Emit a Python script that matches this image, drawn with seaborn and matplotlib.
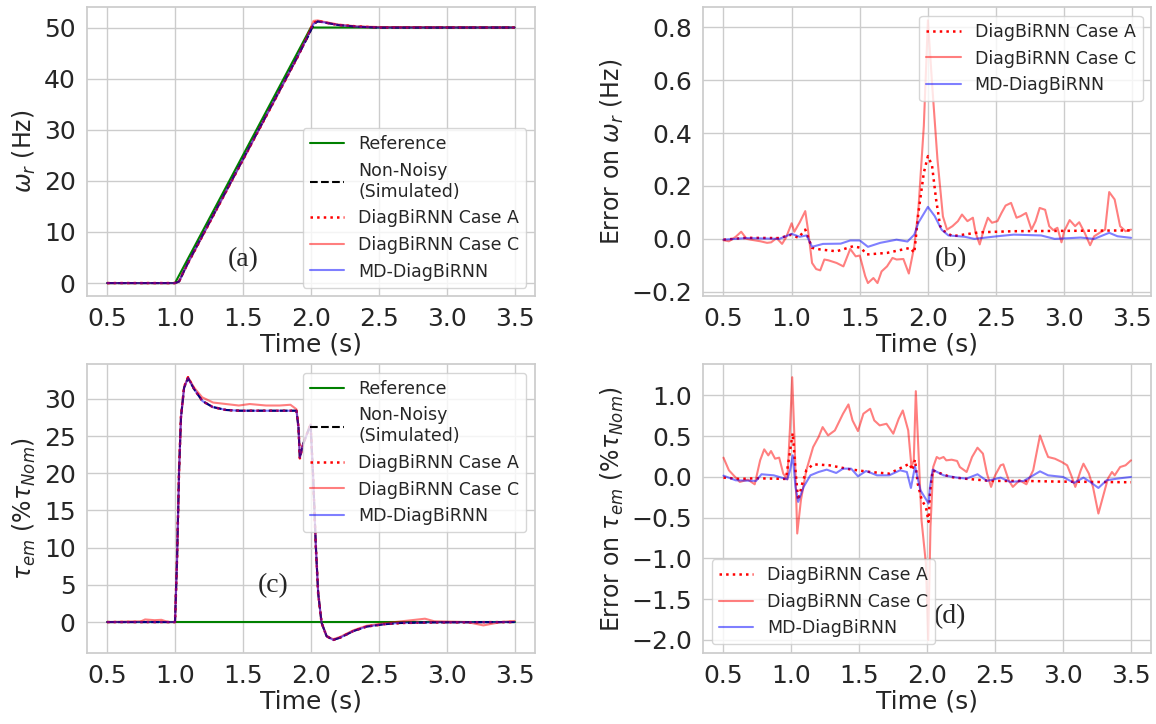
import matplotlib
matplotlib.use("Agg")
import matplotlib.pyplot as plt
import seaborn as sns

# ── Data ──────────────────────────────────────────────────────────────────────
# (a) rotor speed
ref_w_t = [0.5, 1.0, 2.0, 3.5]
ref_w = [0, 0, 50, 50]
sim_w_t = [0.5, 1.0, 1.03, 1.06, 1.10, 1.5, 1.9, 1.98, 2.02, 2.05, 2.1, 2.2, 2.35, 2.5, 3.5]
sim_w = [0, 0, 0.3, 2.0, 4.2, 24.2, 44.2, 48.3, 50.6, 51.2, 51.0, 50.5, 50.15, 50.0, 50.0]
caseA_w = [0, 0, 0.3, 2.0, 4.1, 24.1, 44.1, 48.5, 50.9, 51.3, 51.0, 50.5, 50.2, 50.0, 50.0]
caseC_w = [0, 0, 0.3, 2.1, 4.1, 24.1, 44.1, 48.7, 51.3, 51.4, 51.1, 50.6, 50.2, 50.1, 50.0]
md_w = [0, 0, 0.3, 2.0, 4.2, 24.2, 44.2, 48.4, 50.7, 51.2, 51.0, 50.5, 50.15, 50.0, 50.0]

# (b) error on rotor speed
errA_w_t = [0.50, 0.67, 0.91, 1.00, 1.05, 1.10, 1.15, 1.21, 1.33, 1.45, 1.51, 1.55, 1.70, 1.87,
            1.90, 1.93, 1.97, 2.00, 2.03, 2.06, 2.09, 2.12, 2.18, 2.38, 2.63, 3.49]
errA_w = [-0.003, 0.004, 0.003, 0.016, 0.004, 0.035, -0.034, -0.040, -0.047, -0.028, -0.034, -0.059,
          -0.053, -0.034, -0.053, 0.098, 0.250, 0.313, 0.278, 0.149, 0.048, 0.029, 0.010, 0.025,
          0.029, 0.032]
errC_w_t = [0.50, 0.54, 0.59, 0.63, 0.67, 0.70, 0.77, 0.82, 0.85, 0.89, 0.93, 0.96, 1.00, 1.02,
            1.06, 1.10, 1.12, 1.15, 1.18, 1.21, 1.24, 1.27, 1.33, 1.38, 1.43, 1.47, 1.50, 1.54,
            1.56, 1.60, 1.63, 1.66, 1.70, 1.74, 1.77, 1.82, 1.86, 1.90, 1.93, 1.97, 2.00, 2.03,
            2.07, 2.11, 2.14, 2.18, 2.22, 2.25, 2.29, 2.33, 2.35, 2.38, 2.41, 2.44, 2.47, 2.51,
            2.54, 2.57, 2.61, 2.65, 2.68, 2.72, 2.76, 2.79, 2.82, 2.86, 2.89, 2.92, 2.95, 2.98,
            3.00, 3.04, 3.08, 3.11, 3.15, 3.19, 3.22, 3.26, 3.30, 3.33, 3.37, 3.41, 3.45, 3.49]
errC_w = [-0.005, -0.009, 0.008, 0.027, 0.000, -0.003, -0.009, -0.015, -0.013, 0.003, -0.019,
          0.006, 0.059, 0.027, 0.063, 0.105, 0.035, -0.091, -0.114, -0.119, -0.078, -0.081,
          -0.091, -0.104, -0.038, -0.066, -0.063, -0.141, -0.167, -0.148, -0.167, -0.123,
          -0.104, -0.072, -0.078, -0.076, -0.131, -0.028, 0.111, 0.427, 0.826, 0.591, 0.301,
          0.085, 0.035, 0.048, 0.067, 0.092, 0.067, 0.080, 0.023, -0.021, 0.035, 0.080, 0.061,
          0.067, 0.098, 0.126, 0.136, 0.080, 0.086, 0.098, 0.035, 0.067, 0.117, 0.110, 0.048,
          0.033, 0.042, -0.013, 0.029, 0.071, 0.048, 0.063, 0.023, -0.024, 0.010, 0.023, 0.035,
          0.177, 0.149, 0.048, 0.029, 0.035]
errMD_w_t = [0.50, 0.67, 0.91, 1.00, 1.06, 1.11, 1.15, 1.23, 1.36, 1.43, 1.50, 1.56, 1.65, 1.77,
             1.85, 1.90, 1.93, 2.00, 2.05, 2.10, 2.15, 2.27, 2.34, 2.51, 2.63, 2.83, 2.93, 3.12,
             3.22, 3.33, 3.39, 3.49]
errMD_w = [-0.003, 0.003, 0.000, 0.019, 0.008, 0.013, -0.030, -0.019, -0.018, -0.006, -0.006,
           -0.030, -0.015, -0.003, -0.010, 0.016, 0.061, 0.121, 0.086, 0.035, 0.013, 0.008, 0.000,
           0.010, 0.016, 0.013, 0.000, 0.005, 0.000, 0.023, 0.010, 0.004]

# (c) electromagnetic torque
ref_tau_t = [0.5, 3.5]
ref_tau = [0, 0]
sim_tau_t = [0.5, 1.0, 1.015, 1.03, 1.044, 1.067, 1.096, 1.141, 1.202, 1.277, 1.375, 1.474,
             1.894, 1.909, 1.919, 1.943, 1.998, 2.017, 2.037, 2.054, 2.079, 2.116, 2.165, 2.215,
             2.314, 2.412, 2.536, 2.659, 2.906, 3.499]
sim_tau = [0, 0, 8.4, 20.4, 27.5, 31.5, 32.8, 31.3, 29.7, 28.9, 28.5, 28.4, 28.4, 26.2, 22.1,
           23.9, 26.6, 19.5, 10.1, 3.9, -0.1, -1.9, -2.4, -2.1, -1.2, -0.6, -0.3, -0.13, -0.04, 0]
caseA_tau = [0, 0, 8.4, 20.5, 27.6, 31.6, 32.9, 31.3, 29.7, 28.9, 28.5, 28.4, 28.4, 26.2, 22.0,
             23.9, 26.6, 19.4, 10.0, 3.8, -0.1, -1.9, -2.4, -2.1, -1.2, -0.6, -0.3, -0.13, -0.05, 0]
md_tau = [0, 0, 8.3, 20.3, 27.5, 31.5, 32.8, 31.3, 29.7, 28.9, 28.5, 28.4, 28.4, 26.1, 22.1,
          23.9, 26.5, 19.5, 10.1, 3.9, -0.1, -1.9, -2.4, -2.1, -1.2, -0.6, -0.3, -0.1, -0.04, 0]
caseC_tau_t = [0.5, 0.75, 0.78, 0.85, 0.9, 0.95, 1.0, 1.015, 1.03, 1.044, 1.067, 1.096, 1.141,
               1.20, 1.28, 1.375, 1.47, 1.55, 1.67, 1.77, 1.85, 1.894, 1.909, 1.919, 1.943,
               1.998, 2.017, 2.037, 2.054, 2.079, 2.116, 2.165, 2.215, 2.314, 2.41, 2.57, 2.84,
               2.91, 3.15, 3.27, 3.40, 3.5]
caseC_tau = [0, 0.1, 0.35, 0.25, 0.3, 0.0, 0, 8.4, 20.4, 27.5, 31.6, 32.9, 31.5, 30.2, 29.5, 29.3,
             29.1, 29.3, 29.1, 29.1, 29.2, 28.6, 26.2, 22.1, 23.9, 26.6, 19.5, 10.1, 3.9, -0.1,
             -1.9, -2.3, -2.0, -1.1, -0.5, -0.1, 0.45, 0.1, 0.0, -0.45, 0.0, 0.15]

# (d) error on torque
errA_tau_t = [0.50, 0.62, 0.74, 0.96, 0.98, 1.01, 1.03, 1.05, 1.08, 1.11, 1.16, 1.28, 1.43, 1.58,
              1.72, 1.77, 1.82, 1.87, 1.89, 1.91, 1.93, 1.96, 1.99, 2.01, 2.02, 2.04, 2.07, 2.17,
              2.27, 2.47, 2.72, 2.97, 3.50]
errA_tau = [-0.008, -0.024, -0.016, -0.024, 0.204, 0.539, 0.082, -0.286, -0.082, 0.082, 0.155,
            0.143, 0.094, 0.061, 0.041, 0.082, 0.122, 0.163, 0.082, 0.212, -0.082, -0.286,
            -0.367, -0.551, -0.204, 0.082, 0.061, 0.000, -0.020, -0.049, -0.049, -0.057, -0.065]
errC_tau_t = [0.50, 0.54, 0.62, 0.68, 0.73, 0.77, 0.80, 0.83, 0.85, 0.88, 0.91, 0.94, 0.97, 0.99,
              1.006, 1.024, 1.043, 1.07, 1.11, 1.16, 1.20, 1.23, 1.27, 1.32, 1.38, 1.42, 1.45,
              1.49, 1.53, 1.58, 1.61, 1.65, 1.70, 1.75, 1.79, 1.82, 1.86, 1.884, 1.901, 1.916,
              1.933, 1.958, 1.990, 2.007, 2.024, 2.044, 2.07, 2.09, 2.12, 2.14, 2.18, 2.22, 2.24,
              2.29, 2.33, 2.37, 2.41, 2.44, 2.47, 2.50, 2.54, 2.56, 2.60, 2.63, 2.68, 2.73, 2.78,
              2.83, 2.87, 2.89, 2.94, 2.99, 3.03, 3.06, 3.09, 3.13, 3.15, 3.19, 3.22, 3.26, 3.30,
              3.33, 3.36, 3.38, 3.42, 3.46, 3.50]
errC_tau = [0.237, 0.082, -0.061, -0.033, -0.090, 0.204, 0.339, 0.265, 0.318, 0.224, 0.237,
            0.041, -0.029, 0.612, 1.224, 0.408, -0.694, -0.286, 0.082, 0.367, 0.490, 0.612,
            0.510, 0.571, 0.776, 0.890, 0.694, 0.563, 0.776, 0.837, 0.694, 0.633, 0.653, 0.531,
            0.714, 0.816, 0.571, 0.122, 0.204, 1.053, 0.408, -0.531, -1.061, -2.000, -0.612,
            0.122, 0.245, 0.224, 0.245, 0.204, 0.212, 0.196, 0.122, 0.061, 0.245, 0.359, 0.286,
            0.041, -0.122, 0.020, 0.143, 0.155, -0.041, -0.122, -0.041, -0.090, 0.082, 0.510,
            0.327, 0.245, 0.224, 0.184, 0.143, 0.020, -0.122, 0.082, 0.163, 0.041, -0.122,
            -0.449, -0.204, -0.020, 0.061, 0.020, 0.122, 0.143, 0.204]
errMD_tau_t = [0.50, 0.59, 0.74, 0.78, 0.87, 0.97, 0.99, 1.01, 1.03, 1.05, 1.09, 1.14, 1.20, 1.26,
               1.33, 1.38, 1.44, 1.49, 1.55, 1.63, 1.72, 1.80, 1.85, 1.88, 1.91, 1.95, 1.98, 2.01,
               2.02, 2.04, 2.12, 2.22, 2.29, 2.37, 2.44, 2.54, 2.61, 2.71, 2.83, 2.89, 3.00, 3.08,
               3.15, 3.20, 3.26, 3.32, 3.40, 3.50]
errMD_tau = [0.016, -0.041, -0.049, 0.033, 0.020, -0.029, 0.082, 0.265, -0.122, -0.306, -0.122,
             0.020, 0.061, 0.090, 0.049, 0.102, 0.102, 0.008, 0.073, 0.020, 0.020, 0.082, 0.061,
             -0.135, 0.131, -0.163, -0.245, -0.327, -0.122, 0.090, 0.020, -0.008, -0.020, 0.033,
             -0.049, -0.008, -0.061, -0.049, 0.069, 0.020, 0.000, -0.073, -0.008, -0.061, -0.135,
             -0.041, -0.020, 0.000]

time_ticks = [0.5, 1.0, 1.5, 2.0, 2.5, 3.0, 3.5]
w_ticks = [0, 10, 20, 30, 40, 50]
err_w_ticks = [-0.2, 0.0, 0.2, 0.4, 0.6, 0.8]
tau_ticks = [0, 5, 10, 15, 20, 25, 30]
err_tau_ticks = [-2.0, -1.5, -1.0, -0.5, 0.0, 0.5, 1.0]

# ── Style ─────────────────────────────────────────────────────────────────────
sns.set_theme(style="whitegrid")
plt.rcParams["font.family"] = ["DejaVu Sans"]

REF = dict(color="green", linewidth=1.5)
SIM = dict(color="black", linestyle="--", linewidth=1.5)
CASE_A = dict(color="red", linestyle=":", linewidth=1.8)
CASE_C = dict(color="red", alpha=0.5, linewidth=1.5)
MD = dict(color="blue", alpha=0.5, linewidth=1.5)
TAG = dict(fontsize=20, family="Liberation Serif", ha="center", va="center")

fig, axes = plt.subplots(2, 2, figsize=(11.56, 7.24), dpi=100)
fig.subplots_adjust(left=0.075, right=0.996, bottom=0.098, top=0.99, wspace=0.375, hspace=0.235)
ax1, ax2, ax3, ax4 = axes.ravel()

# (a) speed
sns.lineplot(x=ref_w_t, y=ref_w, label="Reference", ax=ax1, **REF)
sns.lineplot(x=sim_w_t, y=sim_w, label="Non-Noisy\n(Simulated)", ax=ax1, **SIM)
sns.lineplot(x=sim_w_t, y=caseA_w, label="DiagBiRNN Case A", ax=ax1, **CASE_A)
sns.lineplot(x=sim_w_t, y=caseC_w, label="DiagBiRNN Case C", ax=ax1, **CASE_C)
sns.lineplot(x=sim_w_t, y=md_w, label="MD-DiagBiRNN", ax=ax1, **MD)
ax1.set_ylabel(r"$\omega_r$ (Hz)")
ax1.set_yticks(w_ticks)
ax1.legend(loc="lower right", fontsize=12.5)
ax1.text(1.5, 4.5, "(a)", **TAG)

# (b) speed error
sns.lineplot(x=errA_w_t, y=errA_w, label="DiagBiRNN Case A", ax=ax2, **CASE_A)
sns.lineplot(x=errC_w_t, y=errC_w, label="DiagBiRNN Case C", ax=ax2, **CASE_C)
sns.lineplot(x=errMD_w_t, y=errMD_w, label="MD-DiagBiRNN", ax=ax2, **MD)
ax2.set_ylabel(r"Error on $\omega_r$ (Hz)")
ax2.set_yticks(err_w_ticks)
ax2.legend(loc="upper right", fontsize=12.5)
ax2.text(2.17, -0.08, "(b)", **TAG)

# (c) torque
sns.lineplot(x=ref_tau_t, y=ref_tau, label="Reference", ax=ax3, **REF)
sns.lineplot(x=sim_tau_t, y=sim_tau, label="Non-Noisy\n(Simulated)", ax=ax3, **SIM)
sns.lineplot(x=sim_tau_t, y=caseA_tau, label="DiagBiRNN Case A", ax=ax3, **CASE_A)
sns.lineplot(x=caseC_tau_t, y=caseC_tau, label="DiagBiRNN Case C", ax=ax3, **CASE_C)
sns.lineplot(x=sim_tau_t, y=md_tau, label="MD-DiagBiRNN", ax=ax3, **MD)
ax3.set_ylabel(r"$\tau_{em}$ ($\%\tau_{Nom}$)")
ax3.set_yticks(tau_ticks)
ax3.legend(loc="upper right", fontsize=12.5)
ax3.text(1.72, 4.9, "(c)", **TAG)

# (d) torque error
sns.lineplot(x=errA_tau_t, y=errA_tau, label="DiagBiRNN Case A", ax=ax4, **CASE_A)
sns.lineplot(x=errC_tau_t, y=errC_tau, label="DiagBiRNN Case C", ax=ax4, **CASE_C)
sns.lineplot(x=errMD_tau_t, y=errMD_tau, label="MD-DiagBiRNN", ax=ax4, **MD)
ax4.set_ylabel(r"Error on $\tau_{em}$ ($\%\tau_{Nom}$)")
ax4.set_yticks(err_tau_ticks)
ax4.legend(loc="lower left", fontsize=12.5)
ax4.text(2.17, -1.72, "(d)", **TAG)

for ax in axes.ravel():
    ax.set_xticks(time_ticks)
    ax.set_xlabel("Time (s)", fontsize=18, labelpad=1)
    ax.yaxis.label.set_size(17)
    ax.tick_params(labelsize=18, pad=2)

fig.savefig("out.png", dpi=100)
